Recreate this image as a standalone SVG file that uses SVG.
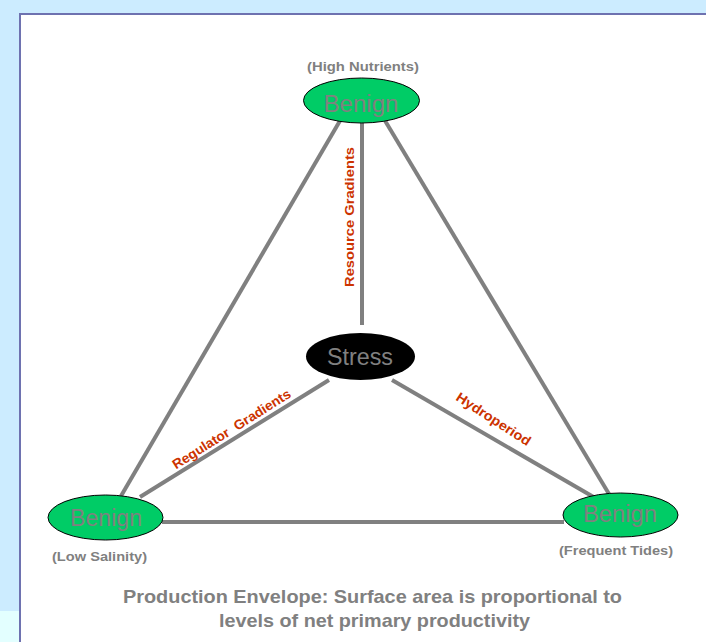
<svg xmlns="http://www.w3.org/2000/svg" width="706" height="642" viewBox="0 0 706 642">
<style>
.edge{stroke:#808080;stroke-width:4;fill:none}
.nodeG{fill:#00CC66;stroke:#000;stroke-width:1}
.nt{font-family:"Liberation Sans",Arial,sans-serif;font-size:23px;fill:#808080;text-anchor:middle}
.sub{font-family:"Liberation Sans",Arial,sans-serif;font-size:13.5px;font-weight:bold;fill:#808080;text-anchor:middle}
.el{font-family:"Liberation Sans",Arial,sans-serif;font-size:13.5px;font-weight:bold;fill:#CC3300;text-anchor:middle}
.cap{font-family:"Liberation Sans",Arial,sans-serif;font-size:18.5px;font-weight:bold;fill:#808080;text-anchor:middle}
</style>
<rect x="0" y="0" width="706" height="642" fill="#CCECFF"/>
<rect x="0" y="611" width="20" height="31" fill="#E3FFFF"/>
<rect x="20" y="14" width="690" height="632" fill="#FFFFFF" stroke="#6E72B0" stroke-width="2"/>
<g id="connectors">
<line class="edge" x1="362" y1="123" x2="362" y2="325"/>
<line class="edge" x1="341" y1="119" x2="121" y2="496"/>
<line class="edge" x1="384" y1="119" x2="609" y2="494"/>
<line class="edge" x1="162" y1="522" x2="564" y2="522"/>
<line class="edge" x1="329" y1="380" x2="140" y2="497"/>
<line class="edge" x1="392" y1="380" x2="597" y2="499"/>
<text class="el" textLength="140" lengthAdjust="spacingAndGlyphs" transform="translate(354,217) rotate(-90)">Resource Gradients</text>
<text class="el" xml:space="preserve" textLength="137" lengthAdjust="spacingAndGlyphs" transform="translate(234,433) rotate(-32.3)">Regulator  Gradients</text>
<text class="el" textLength="86" lengthAdjust="spacingAndGlyphs" transform="translate(491,423) rotate(33)">Hydroperiod</text>
</g>
<g id="node-top">
<ellipse class="nodeG" cx="361.5" cy="100.5" rx="58" ry="22.5"/>
<text class="nt" x="361" y="112" textLength="75" lengthAdjust="spacingAndGlyphs">Benign</text>
<text class="sub" x="363" y="71" textLength="112" lengthAdjust="spacingAndGlyphs">(High Nutrients)</text>
</g>
<g id="node-left">
<ellipse class="nodeG" cx="105.5" cy="517.5" rx="57.5" ry="22.5"/>
<text class="nt" x="106" y="526" textLength="72" lengthAdjust="spacingAndGlyphs">Benign</text>
<text class="sub" x="99.5" y="561" textLength="95" lengthAdjust="spacingAndGlyphs">(Low Salinity)</text>
</g>
<g id="node-right">
<ellipse class="nodeG" cx="620.5" cy="515" rx="57.5" ry="22"/>
<text class="nt" x="620" y="522" textLength="74" lengthAdjust="spacingAndGlyphs">Benign</text>
<text class="sub" x="616" y="555" textLength="114" lengthAdjust="spacingAndGlyphs">(Frequent Tides)</text>
</g>
<g id="node-stress">
<ellipse cx="360.5" cy="356.5" rx="54.5" ry="23.5" fill="#000000"/>
<text class="nt" x="360" y="365" font-size="24" textLength="66" lengthAdjust="spacingAndGlyphs">Stress</text>
</g>
<g id="caption">
<text class="cap" x="372.5" y="603" textLength="499" lengthAdjust="spacingAndGlyphs">Production Envelope: Surface area is proportional to</text>
<text class="cap" x="374.5" y="627" textLength="311" lengthAdjust="spacingAndGlyphs">levels of net primary productivity</text>
</g>
</svg>
